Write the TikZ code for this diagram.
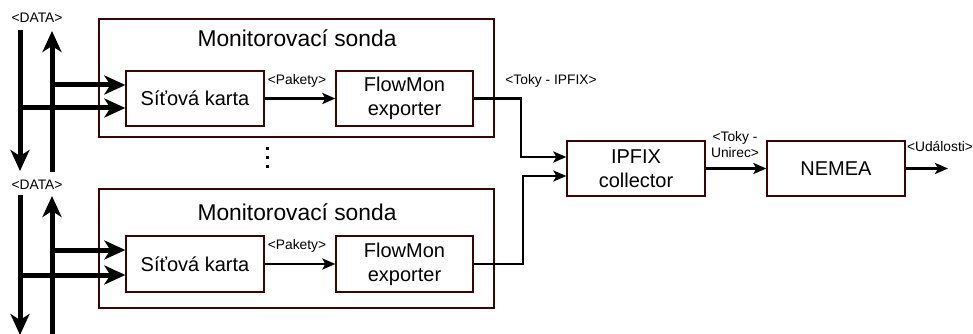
\documentclass[tikz,border=0pt]{standalone}
\usepackage{fontspec}
\setmainfont{Liberation Sans}
\usetikzlibrary{arrows.meta}
\definecolor{boxc}{HTML}{3A0505}
\tikzset{
  box/.style={draw=boxc, line width=1.3pt, fill=white, inner sep=0pt, align=center, font=\fontsize{20}{24}\selectfont},
  title/.style={font=\fontsize{22.8}{26}\selectfont, inner sep=0pt},
  lbl/.style={font=\fontsize{13.8}{16}\selectfont, inner sep=0pt, align=center},
  thin/.style={line width=2.5pt, -{Stealth[length=13pt,width=11pt,inset=3pt]}},
  thick/.style={line width=5pt, -{Stealth[length=21pt,width=19pt,inset=6pt]}},
}
\begin{document}
\begin{tikzpicture}[x=1pt,y=-1pt]
\useasboundingbox (0,0) rectangle (973,334);
% probe boxes
\node[box, minimum width=395pt, minimum height=118pt] (O1) at (296.5,78) {};
\node[title] (T1) at (297,38) {Monitorovací sonda};
\node[box, minimum width=138pt, minimum height=55pt] (S1) at (195,98.5) {Síťová karta};
\node[box, minimum width=137pt, minimum height=55pt] (F1) at (404.5,98.5) {FlowMon\\exporter};

\node[box, minimum width=395pt, minimum height=119pt] (O2) at (296.5,248.5) {};
\node[title] (T2) at (297,212) {Monitorovací sonda};
\node[box, minimum width=138pt, minimum height=56pt] (S2) at (195,264) {Síťová karta};
\node[box, minimum width=137pt, minimum height=56pt] (F2) at (404.5,264) {FlowMon\\exporter};

\node[box, minimum width=138pt, minimum height=55pt] (IP) at (636,168.5) {IPFIX\\collector};
\node[box, minimum width=138pt, minimum height=55pt] (NE) at (836,168.5) {NEMEA};

% dots
\foreach \yy in {148,157,166} \fill (265.5,\yy-1.5) rectangle (268.5,\yy+1.5);

% labels
\node[lbl] (L1) at (297,81) {<Pakety>};
\node[lbl] (L2) at (297,246) {<Pakety>};
\node[lbl] (L3) at (551,81) {<Toky - IPFIX>};
\node[lbl] (L4) at (735,145) {<Toky -\\Unirec>};
\node[lbl] (L5) at (940,146) {<Události>};
\node[lbl] (D1) at (37,18) {<DATA>};
\node[lbl] (D2) at (37,185) {<DATA>};

% internal arrows
\draw[thin] (S1.east) -- (F1.west);
\draw[thin] (S2.east) -- (F2.west);
\coordinate (j1) at (521,157);
\coordinate (j2) at (523,176);
\draw[thin] (F1.east) -| (j1) -- (j1 -| IP.west);
\draw[thin] (F2.east) -| (j2) -- (j2 -| IP.west);
\draw[thin] (IP.east) -- (NE.west);
\coordinate (out) at (948,168.5);
\draw[thin] (NE.east) -- (out);

% data lines group 1
\coordinate (a1t) at (20,30);
\coordinate (a1b) at (20,171);
\coordinate (b1b) at (52,172);
\coordinate (b1t) at (52,31);
\coordinate (h1) at (52,85);
\coordinate (h2) at (20,108);
\draw[thick] (h1) -- (h1 -| S1.west);
\draw[thick] (h2) -- (h2 -| S1.west);
\draw[thick] (a1t) -- (a1b);
\draw[thick] (b1b) -- (b1t);

% data lines group 2
\coordinate (a2t) at (20,195);
\coordinate (a2b) at (20,335);
\coordinate (b2b) at (52,336);
\coordinate (b2t) at (52,196);
\coordinate (h3) at (52,250);
\coordinate (h4) at (20,275);
\draw[thick] (h3) -- (h3 -| S2.west);
\draw[thick] (h4) -- (h4 -| S2.west);
\draw[thick] (a2t) -- (a2b);
\draw[thick] (b2b) -- (b2t);
\end{tikzpicture}
\end{document}
